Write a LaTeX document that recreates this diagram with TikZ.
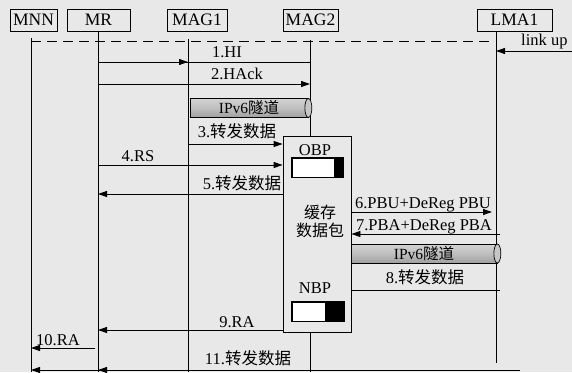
\documentclass[tikz,border=0pt]{standalone}
\usepackage{fontspec}
\setmainfont{Liberation Serif}
\newfontfamily\cjk{Noto Sans CJK SC}
\usetikzlibrary{arrows.meta}
\begin{document}
\begin{tikzpicture}[x=1pt,y=-1pt,
  hdr/.style={draw, line width=0.9pt, minimum height=22pt, inner sep=0pt, font=\fontsize{17.5}{17.5}\selectfont},
  life/.style={line width=0.9pt},
  msg/.style={line width=0.9pt, -{Triangle[length=9pt,width=6pt]}},
  plain/.style={line width=0.9pt},
  lbl/.style={font=\fontsize{16.5}{16.5}\selectfont, inner sep=0pt, anchor=base},
  tunnel/.style={draw, line width=0.7pt, inner sep=0pt, minimum height=19pt, top color=gray!35, bottom color=gray!75, middle color=gray!50, font=\fontsize{15.5}{15.5}\selectfont},
  bufbar/.style={draw, line width=0.8pt, fill=white, minimum height=19pt, inner sep=0pt},
]
\useasboundingbox (0,0) rectangle (572,372);
\fill[black!9] (0,0) rectangle (572,372);
% headers
\node[hdr, minimum width=47pt] (mnn) at (33.5,20) {MNN};
\node[hdr, minimum width=63pt] (mr) at (98.5,20) {MR};
\node[hdr, minimum width=60pt] (mag1) at (197,20) {MAG1};
\node[hdr, minimum width=55pt] (mag2) at (310.5,20) {MAG2};
\node[hdr, minimum width=75pt] (lma) at (514.5,20) {LMA1};
% lifeline coordinates
\coordinate (Lmnn) at (31,38);
\coordinate (Lmr) at (98,31);
\coordinate (Lmag1) at (188,39);
\coordinate (Lmag2) at (310,40);
\coordinate (Llma) at (496,31);
\coordinate (bot) at (0,372);
% buffer box
\node[draw, line width=0.9pt, minimum width=68pt, minimum height=196pt, inner sep=0pt] (buf) at (317,234) {};
% lifelines
\draw[life] (Lmnn) -- (Lmnn |- bot);
\draw[life] (Lmr) -- (Lmr |- bot);
\draw[life] (Lmag1) -- (Lmag1 |- bot);
\draw[life] (Lmag2) -- (Lmag2 |- buf.north);
\draw[life] (Lmag2 |- buf.south) -- (Lmag2 |- bot);
\coordinate (lmaend) at (0,363);
\draw[life] (Llma) -- (Llma |- lmaend);
% dashed link line
\coordinate (dl) at (0,41);
\coordinate (dr) at (493,41);
\draw[line width=1pt, dash pattern=on 10pt off 6pt] (Lmnn |- dl) -- (dr);
% link up
\coordinate (lu) at (572,51);
\draw[msg] (lu) -- (Llma |- lu);
\node[lbl, anchor=base west] (lutxt) at (521,45) {link up};
% y levels
\coordinate (y1) at (0,62);
\coordinate (y2) at (0,84);
\coordinate (y3) at (0,144);
\coordinate (y4) at (0,165);
\coordinate (y5) at (0,194);
\coordinate (y6) at (0,212);
\coordinate (y7) at (0,234);
\coordinate (y8) at (0,290);
\coordinate (y9) at (0,330);
\coordinate (y10) at (0,348);
\coordinate (y11) at (0,370);
% 1
\draw[plain] (Lmr |- y1) -- (Lmag2 |- y1);
\draw[msg] (Lmr |- y1) -- (Lmag1 |- y1);
\node[lbl] (l1) at (227,57) {1.HI};
% 2
\draw[msg] (Lmr |- y2) -- (Lmag2 |- y2);
\node[lbl] (l2) at (237,79) {2.HAck};
% tunnel 1
\node[tunnel, minimum width=118pt] (t1) at (249,108) {IPv6{\cjk 隧道}};
\draw[line width=0.7pt, fill=gray!45] (t1.east) ellipse [x radius=3.5pt, y radius=9.5pt];
% 3
\draw[msg] (Lmag1 |- y3) -- (buf.west |- y3);
\node[lbl] (l3) at (237,137) {3.{\cjk 转发数据}};
% 4
\draw[msg] (Lmr |- y4) -- (buf.west |- y4);
\node[lbl] (l4) at (138,161) {4.RS};
% 5
\draw[msg] (buf.west |- y5) -- (Lmr |- y5);
\node[lbl] (l5) at (242,189) {5.{\cjk 转发数据}};
% OBP
\node[lbl] (obp) at (315,155) {OBP};
\node[bufbar, minimum width=51pt] (obar) at (317.5,167.5) {};
\fill (334,158) rectangle (obar.south east);
\draw[line width=0.8pt] (obar.north west) rectangle (obar.south east);
% cache text
\node[font=\fontsize{16}{18}\selectfont, align=center, inner sep=0pt] (cache) at (320,221) {\cjk 缓存\\\cjk 数据包};
% 6
\coordinate (a6) at (492,212);
\draw[msg] (buf.east |- y6) -- (a6);
\node[lbl] (l6) at (423,208) {6.PBU+DeReg PBU};
% 7
\coordinate (s7) at (500,234);
\draw[msg] (s7) -- (buf.east |- y7);
\node[lbl] (l7) at (424,230) {7.PBA+DeReg PBA};
% tunnel 2
\node[tunnel, minimum width=146pt] (t2) at (424,253.5) {IPv6{\cjk 隧道}};
\draw[line width=0.7pt, fill=gray!45] (t2.east) ellipse [x radius=3.5pt, y radius=9.5pt];
% 8
\coordinate (s8) at (500,290);
\draw[plain] (buf.east |- y8) -- (s8);
\node[lbl] (l8) at (425,283) {8.{\cjk 转发数据}};
% NBP
\node[lbl] (nbp) at (315,293) {NBP};
\node[bufbar, minimum width=52pt] (nbar) at (318,311.5) {};
\fill (325,302) rectangle (nbar.south east);
\draw[line width=0.8pt] (nbar.north west) rectangle (nbar.south east);
% 9
\draw[msg] (buf.west |- y9) -- (Lmr |- y9);
\node[lbl] (l9) at (237,327) {9.RA};
% 10
\coordinate (s10) at (95,348);
\draw[msg] (s10) -- (Lmnn |- y10);
\node[lbl] (l10) at (58,345) {10.RA};
% 11
\coordinate (s11) at (520,370);
\draw[msg] (s11) -- (Lmnn |- y11);
\draw[msg] (s11) -- (Lmr |- y11);
\node[lbl] (l11) at (248,364) {11.{\cjk 转发数据}};
\end{tikzpicture}
\end{document}
